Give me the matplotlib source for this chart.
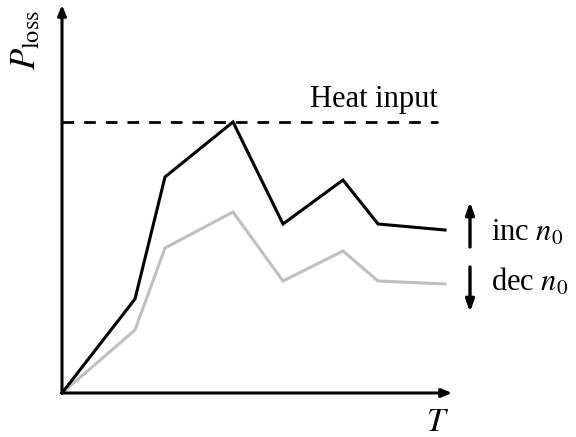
import matplotlib
matplotlib.use("Agg")
import matplotlib.pyplot as plt

plt.rcParams["font.family"] = ["Liberation Serif", "DejaVu Serif"]
plt.rcParams["mathtext.fontset"] = "stix"

# Temperature steps and power loss for the two cases
T = [0, 73, 103, 171, 221, 281, 316, 383]
P_inc = [0, 94, 216, 271, 169, 213, 169, 163]
P_dec = [0, 63, 145, 181, 112, 142, 112, 109]
heat_input = 271

W, H = 576, 437
fig = plt.figure(figsize=(W / 100, H / 100), dpi=100)
x0, y0 = 62, 393
xmax, ymax = 390, 388
ax = fig.add_axes([x0 / W, (H - y0) / H, xmax / W, ymax / H])
ax.set_xlim(0, xmax)
ax.set_ylim(0, ymax)
ax.set_axis_off()

# axes drawn as arrows
arrow = dict(arrowstyle="-|>,head_length=0.6,head_width=0.25", lw=2.2, color="black",
             shrinkA=0, shrinkB=0)
ax.annotate("", xy=(xmax, 0), xytext=(0, 0), arrowprops=arrow, annotation_clip=False)
ax.annotate("", xy=(0, ymax), xytext=(0, 0), arrowprops=arrow, annotation_clip=False)

ax.plot(T, P_dec, color="#c0c0c0", lw=2.2, solid_joinstyle="miter", clip_on=False)
ax.plot(T, P_inc, color="black", lw=2.2, solid_joinstyle="miter", clip_on=False)

ax.plot([0, 376], [heat_input, heat_input], color="black", lw=2.0,
        dashes=(4.2, 3.6), clip_on=False)
ax.text(376, heat_input + 15, "Heat input", ha="right", va="baseline", fontsize=22)

# overlay in pixel units for the free-standing labels
ov = fig.add_axes([0, 0, 1, 1])
ov.set_xlim(0, W)
ov.set_ylim(H, 0)
ov.set_axis_off()

ov.text(438, 431, r"$T$", ha="center", va="baseline", fontsize=24)
ov.text(27, 40, r"$P_{\mathrm{loss}}$", ha="center", va="center",
        fontsize=25, rotation=90)

# direction arrows for n0
small = dict(arrowstyle="-|>,head_length=0.7,head_width=0.25", lw=2.4, color="black",
             shrinkA=0, shrinkB=0)
ov.annotate("", xy=(470, 202), xytext=(470, 247), arrowprops=small)
ov.annotate("", xy=(470, 312), xytext=(470, 267), arrowprops=small)
ov.text(491, 241, r"inc $n_0$", ha="left", va="baseline", fontsize=22)
ov.text(491, 291, r"dec $n_0$", ha="left", va="baseline", fontsize=22)

fig.savefig("out.png", dpi=100)
